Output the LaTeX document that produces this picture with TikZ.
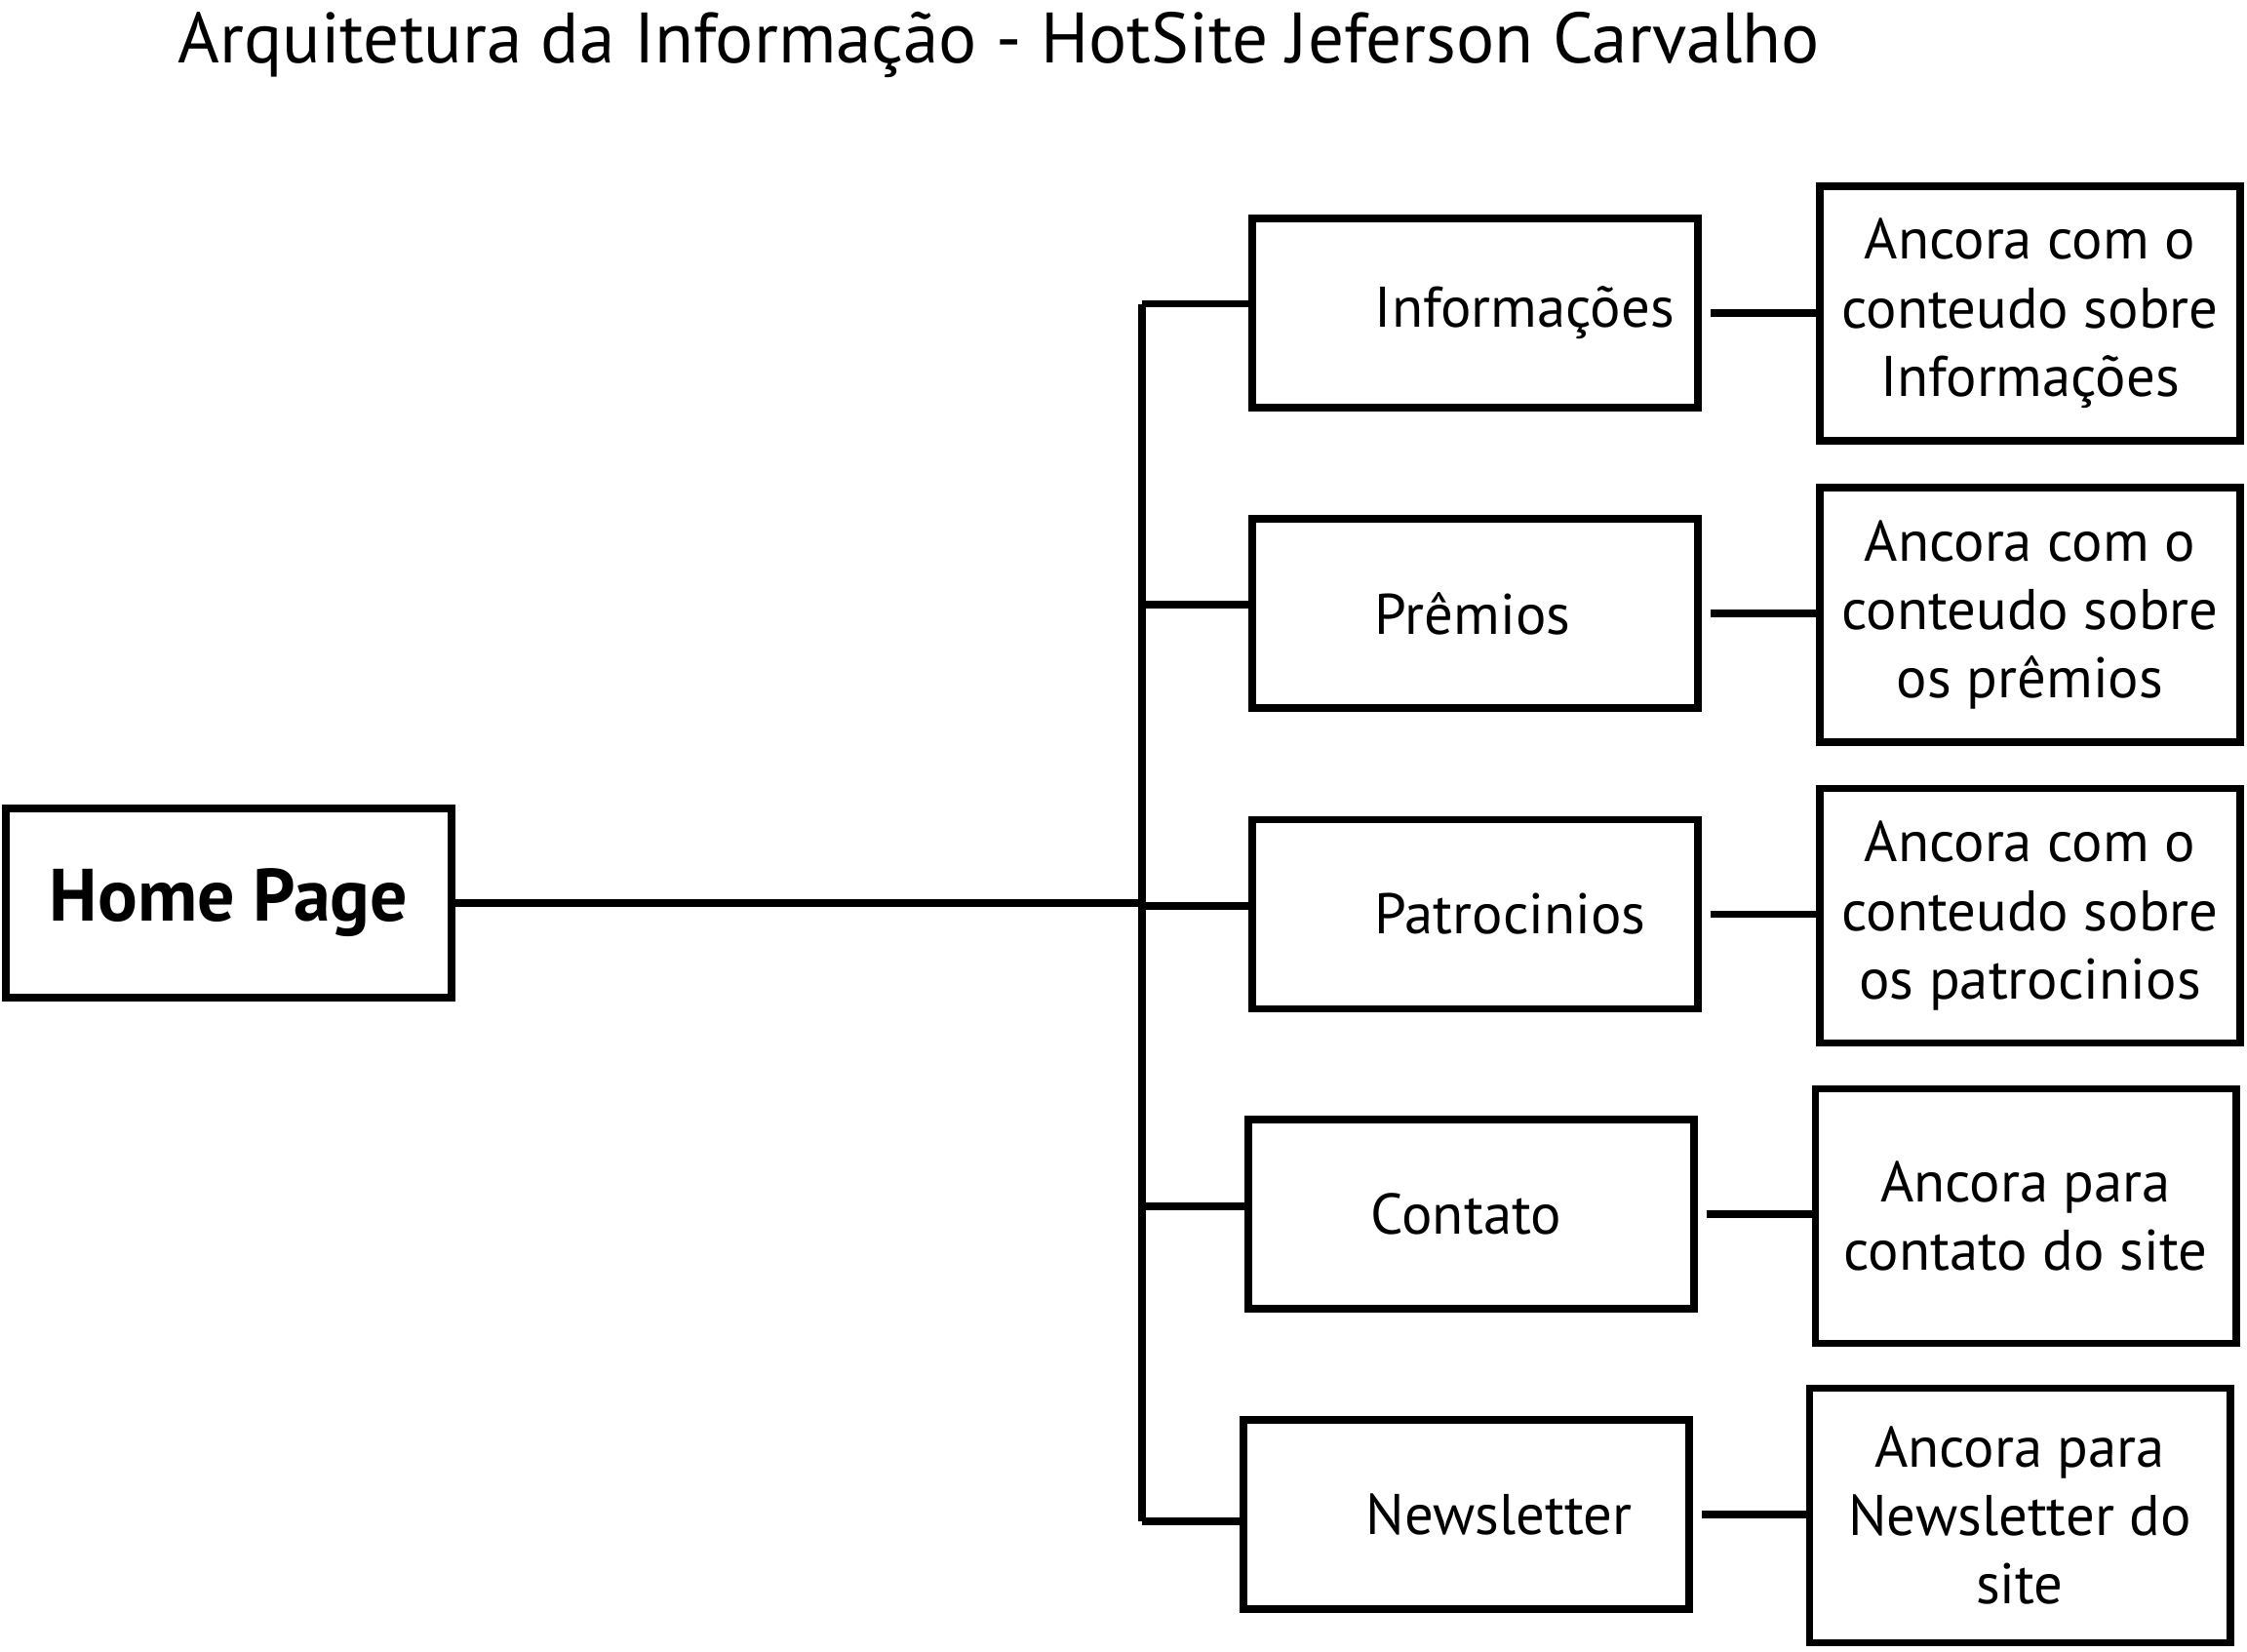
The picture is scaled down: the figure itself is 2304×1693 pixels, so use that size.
\documentclass[tikz,border=0pt]{standalone}
\usepackage{fontspec}
\setmainfont{PT Sans}
\usepackage{tikz}

\begin{document}
\begin{tikzpicture}[x=0.01cm,y=-0.01cm,line width=2.2pt]
  \tikzstyle{box}=[draw, rectangle, line width=2.2pt, minimum width=4.57cm, minimum height=1.94cm, font=\fontsize{16.7}{20}\selectfont]
  \tikzstyle{menu}=[box, text width=4.57cm, inner xsep=0pt, align=left, execute at begin node=\hspace*{1.26cm}]
  \tikzstyle{anchorbox}=[box, minimum width=4.31cm, minimum height=2.61cm, align=center]
  \useasboundingbox (0,0) rectangle (2304,1693);

  \node[anchor=base west, inner sep=0pt, font=\fontsize{20.8}{24}\selectfont] (title) at (179,64) {Arquitetura da Informação - HotSite Jeferson Carvalho};

  \node[box, font=\fontsize{21.6}{26}\selectfont\bfseries] (home) at (234.5,926) {Home Page};

  \node[menu] (info) at (1512.5,321) {Informações};
  \node[menu] (prem) at (1512.5,629) {Prêmios};
  \node[menu] (patr) at (1512.5,937.5) {Patrocinios};
  \node[menu] (cont) at (1508.5,1245) {Contato};
  \node[menu] (news) at (1503.5,1553) {Newsletter};

  \node[anchorbox] (ainfo) at (2081.5,321.5) {Ancora com o\\conteudo sobre\\ Informações};
  \node[anchorbox] (aprem) at (2081.5,630.5) {Ancora com o\\conteudo sobre\\os prêmios};
  \node[anchorbox] (apatr) at (2081.5,939) {Ancora com o\\conteudo sobre\\os patrocinios};
  \node[anchorbox] (acont) at (2077,1247) {Ancora para\\contato do site};
  \node[anchorbox] (anews) at (2071,1554) {Ancora para\\Newsletter do\\site};

  % tronco
  \coordinate (b1) at (1171,311.5);
  \coordinate (b2) at (1171,620);
  \coordinate (b3) at (1171,929);
  \coordinate (b4) at (1171,1237);
  \coordinate (b5) at (1171,1560);

  \draw (home.east) -- (home.east -| b3);
  \draw (b1) -- (b5);
  \draw (b1) -- (b1 -| info.west);
  \draw (b2) -- (b2 -| prem.west);
  \draw (b3) -- (b3 -| patr.west);
  \draw (b4) -- (b4 -| cont.west);
  \draw (b5) -- (b5 -| news.west);

  \draw[shorten <=0.09cm] (info.east) -- (info.east -| ainfo.west);
  \draw[shorten <=0.09cm] (prem.east) -- (prem.east -| aprem.west);
  \draw[shorten <=0.09cm] (patr.east) -- (patr.east -| apatr.west);
  \draw[shorten <=0.09cm] (cont.east) -- (cont.east -| acont.west);
  \draw[shorten <=0.09cm] (news.east) -- (news.east -| anews.west);
\end{tikzpicture}
\end{document}
